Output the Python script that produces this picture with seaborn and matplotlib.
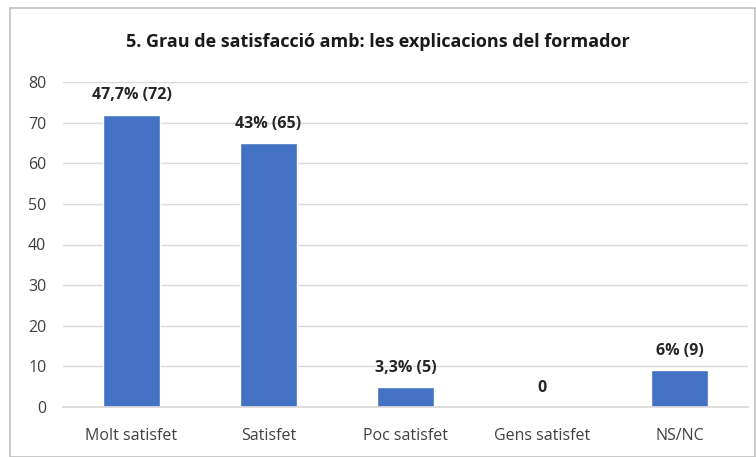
import matplotlib
matplotlib.use("Agg")
import matplotlib.pyplot as plt
import seaborn as sns
import pandas as pd
from matplotlib.patches import Rectangle

categories = ["Molt satisfet", "Satisfet", "Poc satisfet", "Gens satisfet", "NS/NC"]
values = [72, 65, 5, 0, 9]
labels = ["47,7% (72)", "43% (65)", "3,3% (5)", "0", "6% (9)"]
yticks = [0, 10, 20, 30, 40, 50, 60, 70, 80]
title = "5. Grau de satisfacció amb: les explicacions del formador"

sns.set_theme(style="white")
plt.rcParams['font.family'] = ['Open Sans', 'DejaVu Sans']

df = pd.DataFrame({"cat": categories, "val": values})

fig = plt.figure(figsize=(7.56, 4.57), dpi=100)
ax = fig.add_axes([63/756, 1-407/457, 685/756, 325/457])

sns.barplot(data=df, x="cat", y="val", color="#4472C4", saturation=1, width=0.41, ax=ax)

ax.set_ylim(0, 80)
ax.set_yticks(yticks)
ax.yaxis.grid(True, color="#D9D9D9", linewidth=1)
ax.set_axisbelow(True)
for s in ["top", "right", "left"]:
    ax.spines[s].set_visible(False)
ax.spines["bottom"].set_color("#D9D9D9")
ax.set_xlabel("")
ax.set_ylabel("")
ax.tick_params(axis="both", length=0, labelsize=11.5, colors="#404040")
ax.tick_params(axis="y", pad=12)
ax.tick_params(axis="x", pad=15)

for i, (v, lab) in enumerate(zip(values, labels)):
    ax.annotate(lab, (i, v), xytext=(0, 8), textcoords="offset points",
                ha="center", va="bottom", fontsize=11.5, fontweight="bold", color="#262626")

fig.text(0.5, 1-42/457, title, ha="center", va="center", fontsize=13,
         fontweight="bold", color="#1a1a1a")

fig.patches.append(Rectangle((10/756, 0), 1-10/756-0.001, 1-8/457, transform=fig.transFigure,
                             fill=False, edgecolor="#BFBFBF", linewidth=1.2))

fig.savefig("out.png", dpi=100)
